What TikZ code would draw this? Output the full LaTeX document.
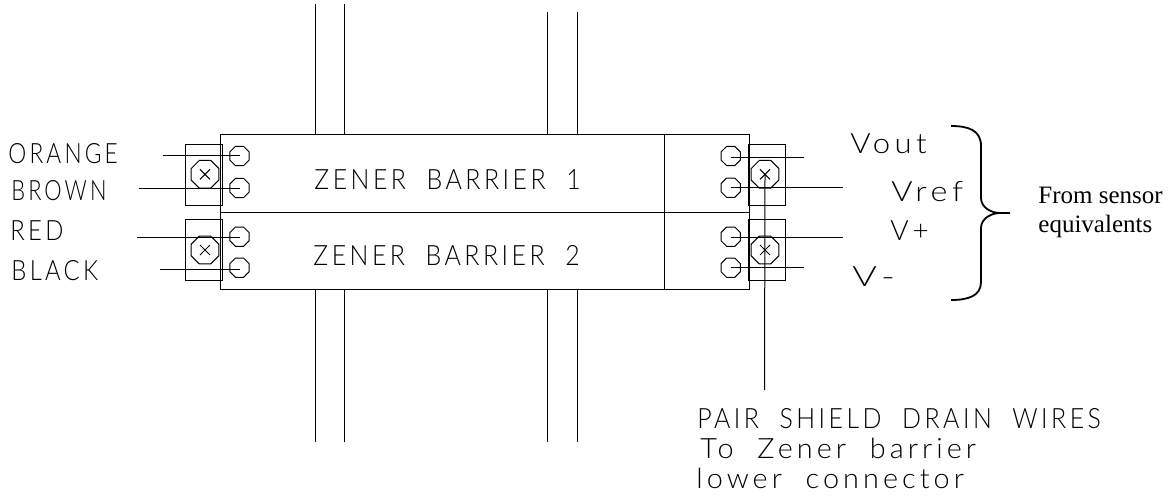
\documentclass[tikz,border=0pt]{standalone}
\usepackage{fontspec}
\setmainfont{Liberation Serif}
\newfontfamily\cadfont[LetterSpace=14,WordSpace=2]{Lato Light}
\usetikzlibrary{shapes.geometric}
\newcommand{\cadtext}[2]{\scalebox{#1}[1]{#2}}
\tikzset{wire/.style={line width=.5pt}}
\tikzset{section/.style={draw, line width=.5pt, inner sep=0, outer sep=0, minimum height=38.75pt}}
\tikzset{clampbox/.style={draw, line width=.5pt, inner sep=0, outer sep=0, minimum width=18.5pt, minimum height=30.5pt}}
\tikzset{terminal/.style={draw, line width=.5pt, regular polygon, regular polygon sides=8, inner sep=0, outer sep=0, minimum size=10.5pt}}
\tikzset{screw/.style={draw, line width=.5pt, regular polygon, regular polygon sides=8, inner sep=0, outer sep=0, minimum size=15pt}}
\tikzset{cadlabel/.style={anchor=base west, inner sep=0, font=\cadfont\fontsize{14}{16}\selectfont}}
\tikzset{seriflabel/.style={anchor=base west, inner sep=0, font=\fontsize{12.5}{14}\selectfont}}
\begin{document}
\begin{tikzpicture}[x=.5pt, y=-.5pt]
\useasboundingbox (0,0) rectangle (1176,499);

% barrier bodies
\node [section, minimum width=222pt] (bar1) at (442,173.25) {};
\node [section, minimum width=222pt] (bar2) at (442,250.75) {};
\node [section, minimum width=42.5pt] (end1) at (706.5,173.25) {};
\node [section, minimum width=42.5pt] (end2) at (706.5,250.75) {};

% clamps
\node [clampbox] (clampA) at (203.5,174.8) {};
\node [clampbox] (clampB) at (203.5,249.8) {};
\node [clampbox] (clampC) at (766.5,174.8) {};
\node [clampbox] (clampD) at (766.5,249.8) {};
\node [screw] (screwA) at (205,174.3) {};
\node [screw] (screwB) at (205,250) {};
\node [screw] (screwC) at (765,174.3) {};
\node [screw] (screwD) at (765,250) {};
\foreach \s in {screwA,screwB,screwC,screwD} {
  \draw [wire, shift=(\s.center)] (-5,-5) -- (5,5) (-5,5) -- (5,-5);
}

% terminals
\node [terminal] (lt1) at (239.5,156) {};
\node [terminal] (lt2) at (239.5,188) {};
\node [terminal] (lt3) at (239.5,236.7) {};
\node [terminal] (lt4) at (239.5,267.7) {};
\node [terminal] (rt1) at (730.7,156) {};
\node [terminal] (rt2) at (730.7,187.7) {};
\node [terminal] (rt3) at (730.7,236.7) {};
\node [terminal] (rt4) at (730.7,267.7) {};

% wire ends
\coordinate (orange) at (163,155);
\coordinate (brown) at (139,188);
\coordinate (red) at (137,237);
\coordinate (black) at (160,269);
\coordinate (vout) at (804,157);
\coordinate (vref) at (843,187);
\coordinate (vplus) at (843,237);
\coordinate (vminus) at (804,267);
\coordinate (drain) at (764.5,390);

\draw [wire] (orange) -- (orange -| lt1.center);
\draw [wire] (brown) -- (brown -| lt2.center);
\draw [wire] (red) -- (red -| lt3.center);
\draw [wire] (black) -- (black -| lt4.center);
\draw [wire] (vout) -- (vout -| rt1.center);
\draw [wire] (vref) -- (vref -| rt2.center);
\draw [wire] (vplus) -- (vplus -| rt3.center);
\draw [wire] (vminus) -- (vminus -| rt4.center);
\draw [wire] (drain) -- (screwC.center);

% cable pairs
\foreach \x/\t in {315/4,344/4,547/12,577/12} {
  \coordinate (up) at (\x,\t);
  \coordinate (down) at (\x,442);
  \draw [wire] (up) -- (up |- bar1.north);
  \draw [wire] (down) -- (down |- bar2.south);
}

% brace
\draw [line width=.9pt] (951,126) .. controls (968,126) and (981,130) .. (981,146) -- (981,198)
  .. controls (981,208) and (992,213) .. (1000,213) -- (1010,213) -- (1000,213)
  .. controls (992,213) and (981,218) .. (981,228) -- (981,282)
  .. controls (981,296) and (968,300) .. (951,300);

% labels
\node [cadlabel] (lblzener1) at (314,189) {\cadtext{.89}{ZENER BARRIER 1}};
\node [cadlabel] (lblzener2) at (313,265) {\cadtext{.89}{ZENER BARRIER 2}};
\node [cadlabel] (lblorange) at (8,163) {\cadtext{.81}{ORANGE}};
\node [cadlabel] (lblbrown) at (11,200) {\cadtext{.78}{BROWN}};
\node [cadlabel] (lblred) at (10,240) {\cadtext{.85}{RED}};
\node [cadlabel] (lblblack) at (11,280) {\cadtext{.85}{BLACK}};
\node [cadlabel] (lblvout) at (850,153) {\cadtext{1.11}{Vout}};
\node [cadlabel] (lblvref) at (891,201) {\cadtext{1.16}{Vref}};
\node [cadlabel] (lblvplus) at (890,240) {V+};
\node [cadlabel] (lblvminus) at (852,286) {\cadtext{1.34}{V-}};
\node [cadlabel] (lblpair) at (697,428) {\cadtext{.89}{PAIR SHIELD DRAIN WIRES}};
\node [cadlabel] (lblto) at (700,458) {\cadtext{1.03}{To Zener barrier}};
\node [cadlabel] (lbllower) at (696,488) {\cadtext{1.03}{lower connector}};
\node [seriflabel] (lblfrom) at (1038,203) {From sensor};
\node [seriflabel] (lblequiv) at (1038,232) {equivalents};

\end{tikzpicture}
\end{document}
